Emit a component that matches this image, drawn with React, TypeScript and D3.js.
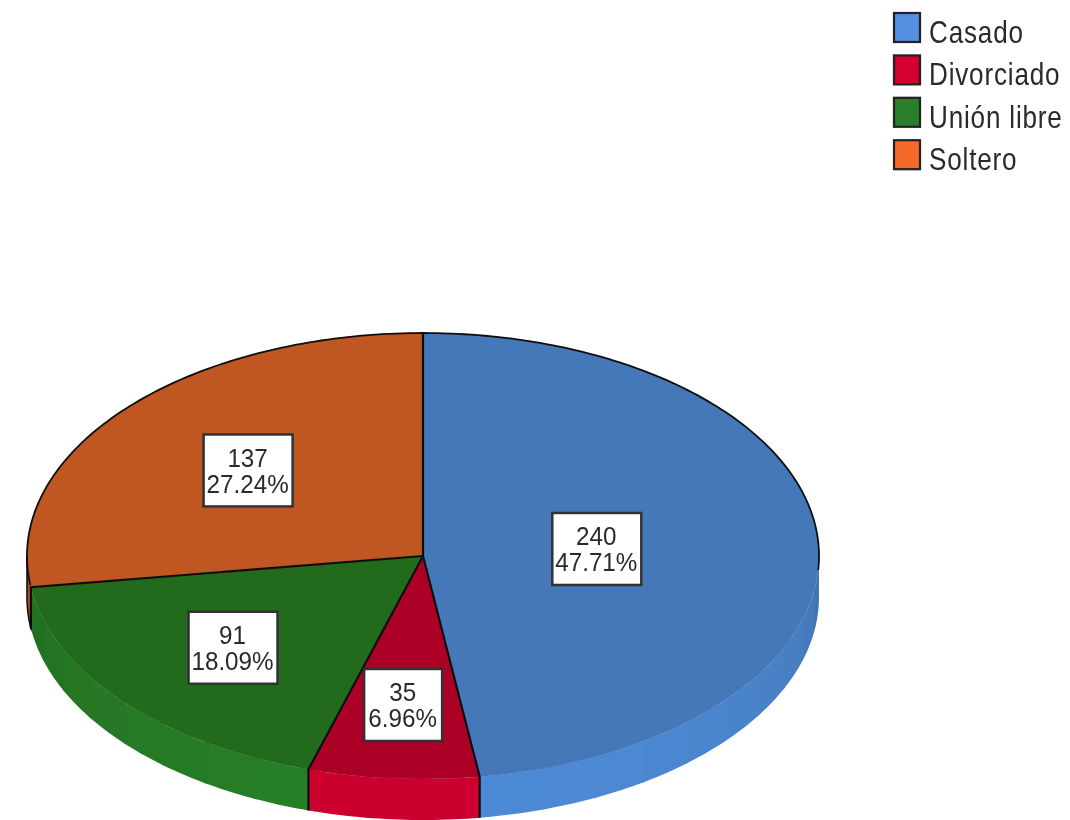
import React from "react";
import * as d3 from "d3";

// estado civil
const categories = ["Casado", "Divorciado", "Unión libre", "Soltero"];
const counts = [240, 35, 91, 137];
const legendColors = ["#5290e0", "#d4002f", "#2a7f2a", "#f36a2a"];
const topColors = ["#4478b8", "#ad0028", "#216b1e", "#c05620"];
const wallColors = ["#4e8ad6", "#cb002e", "#287f28", "#c05620"];
const labelRadius = [0.44, 0.67, 0.632, 0.585];

const cx = 423;
const cy = 556;
const rx = 396;
const ry = 223;
const depth = 41;

const total = d3.sum(counts);
const slices = d3.pie<number>().sort(null).value((d) => d)(counts);
const arc = d3.arc<d3.PieArcDatum<number>>().innerRadius(0).outerRadius(rx);

// point of the rim for a pie angle (clockwise from the top)
const rim = (a: number, dy = 0): [number, number] => [
  cx + rx * Math.sin(a),
  cy - ry * Math.cos(a) + dy,
];
const line = d3.line();
const rad = (deg: number) => (deg * Math.PI) / 180;
const rimLine = (a0: number, a1: number, dy = 0) => {
  const n = Math.max(2, Math.ceil(Math.abs(a1 - a0) / rad(1)));
  const scale = d3.scaleLinear().domain([0, n]).range([a0, a1]);
  return d3.range(n + 1).map((i) => rim(scale(i), dy));
};

// side wall facets, front of the pie lighter than the ends
const facetStep = rad(8);
const facets: { d: string; fill: string }[] = [];
slices.forEach((s, i) => {
  const a0 = Math.max(s.startAngle, Math.PI / 2);
  const a1 = Math.min(s.endAngle, (3 * Math.PI) / 2);
  if (a1 <= a0) return;
  let a = a0;
  while (a < a1) {
    const b = Math.min(a + facetStep, a1);
    // small overlap so no seam shows between two facets
    const over = Math.min(b + rad(0.5), a1);
    const t = Math.pow(Math.abs(Math.cos((a + b) / 2)), 0.45);
    const fill = d3.interpolateRgb(d3.color(topColors[i])!.darker(0.35).toString(), wallColors[i])(t);
    facets.push({ d: line([...rimLine(a, over), ...rimLine(over, a, depth)])! + "Z", fill });
    a = b;
  }
});

const outline = rimLine(rad(93.6), rad(-97.5));
const leftEdge = [
  ...rimLine(rad(-90), rad(-90), 0),
  ...rimLine(rad(-90), rad(-98.5), depth),
];

function Label({ index }: { index: number }) {
  const s = slices[index];
  const mid = (s.startAngle + s.endAngle) / 2;
  const x = cx + rx * labelRadius[index] * Math.sin(mid);
  const y = cy - ry * labelRadius[index] * Math.cos(mid);
  const pct = ((counts[index] / total) * 100).toFixed(2) + "%";
  const w = pct.length > 5 ? 89 : 78;
  return (
    <g transform={`translate(${x},${y})`}>
      <rect x={-w / 2} y={-36} width={w} height={72} fill="#fff" stroke="#333" strokeWidth={2.5} />
      <g transform="translate(-0.5,1.5) scale(0.97,1)" fontSize={25} fill="#2a2a2a" textAnchor="middle">
        <text y={-5}>{counts[index]}</text>
        <text y={21}>{pct}</text>
      </g>
    </g>
  );
}

export default function App() {
  return (
    <svg
      width={1070}
      height={820}
      style={{ position: "absolute", left: 0, top: 0 }}
      fontFamily="'Liberation Sans', Arial, sans-serif"
    >
      <defs>
        <filter id="soft" filterUnits="userSpaceOnUse" x={0} y={0} width={1070} height={820}>
          <feGaussianBlur stdDeviation="0.75" />
        </filter>
      </defs>
      <rect width={1070} height={820} fill="#fff" />
      <g filter="url(#soft)">
        {facets.map((f, i) => (
          <path key={i} d={f.d} fill={f.fill} />
        ))}
        <g transform={`translate(${cx},${cy}) scale(1,${ry / rx})`}>
          {slices.map((s, i) => (
            <path key={i} d={arc(s)!} fill={topColors[i]} stroke={topColors[i]} strokeWidth={0.5} vectorEffect="non-scaling-stroke" />
          ))}
        </g>
        {/* radial and wall dividers */}
        {slices.map((s, i) => {
          const p = rim(s.startAngle);
          const visible = s.startAngle > Math.PI / 2 && s.startAngle < (3 * Math.PI) / 2;
          const end = visible ? rim(s.startAngle, depth) : p;
          return (
            <path key={i} d={line([[cx, cy], p, end])!} fill="none" stroke="#111" strokeWidth={2.2} />
          );
        })}
        <path d={line(outline)!} fill="none" stroke="#111" strokeWidth={1.8} />
        <path d={line(leftEdge)!} fill="none" stroke="#111" strokeWidth={1.6} />
        {categories.map((_, i) => (
          <Label key={i} index={i} />
        ))}
        {categories.map((c, i) => (
          <g key={c} transform={`translate(893,${12 + i * 42.4})`}>
            <rect x={1} y={1} width={26} height={29} fill={legendColors[i]} stroke="#222" strokeWidth={2.2} />
            <text transform="translate(36,31) scale(0.815,1)" fontSize={32} letterSpacing={1} fill="#2a2a2a">
              {c}
            </text>
          </g>
        ))}
      </g>
    </svg>
  );
}
